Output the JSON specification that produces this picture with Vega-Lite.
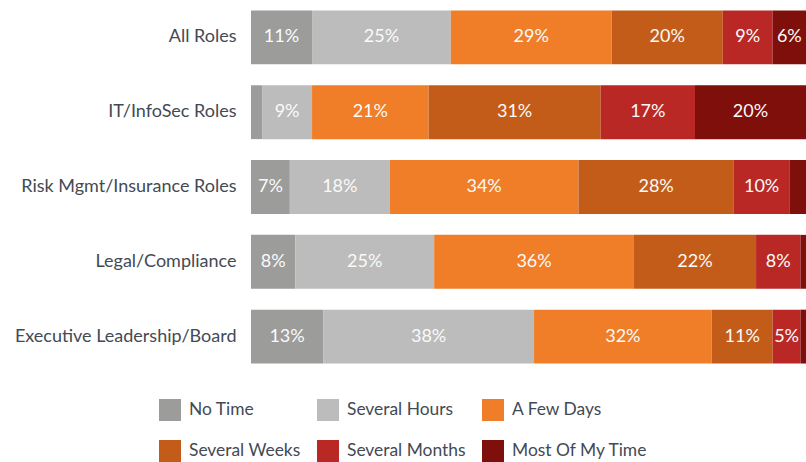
{
  "$schema": "https://vega.github.io/schema/vega-lite/v6.json",
  "width": 555,
  "height": 374,
  "autosize": {"type": "none"},
  "padding": {"left": 251, "top": 0, "right": 0, "bottom": 88},
  "background": "white",
  "config": {"view": {"stroke": null}, "font": "Lato"},
  "data": {
    "values": [
      {"role": "All Roles", "time": "No Time", "k": 1, "share": 0.11},
      {"role": "All Roles", "time": "Several Hours", "k": 2, "share": 0.25},
      {"role": "All Roles", "time": "A Few Days", "k": 3, "share": 0.29},
      {"role": "All Roles", "time": "Several Weeks", "k": 4, "share": 0.20},
      {"role": "All Roles", "time": "Several Months", "k": 5, "share": 0.09},
      {"role": "All Roles", "time": "Most Of My Time", "k": 6, "share": 0.06},
      {"role": "IT/InfoSec Roles", "time": "No Time", "k": 1, "share": 0.02},
      {"role": "IT/InfoSec Roles", "time": "Several Hours", "k": 2, "share": 0.09},
      {"role": "IT/InfoSec Roles", "time": "A Few Days", "k": 3, "share": 0.21},
      {"role": "IT/InfoSec Roles", "time": "Several Weeks", "k": 4, "share": 0.31},
      {"role": "IT/InfoSec Roles", "time": "Several Months", "k": 5, "share": 0.17},
      {"role": "IT/InfoSec Roles", "time": "Most Of My Time", "k": 6, "share": 0.20},
      {"role": "Risk Mgmt/Insurance Roles", "time": "No Time", "k": 1, "share": 0.07},
      {"role": "Risk Mgmt/Insurance Roles", "time": "Several Hours", "k": 2, "share": 0.18},
      {"role": "Risk Mgmt/Insurance Roles", "time": "A Few Days", "k": 3, "share": 0.34},
      {"role": "Risk Mgmt/Insurance Roles", "time": "Several Weeks", "k": 4, "share": 0.28},
      {"role": "Risk Mgmt/Insurance Roles", "time": "Several Months", "k": 5, "share": 0.10},
      {"role": "Risk Mgmt/Insurance Roles", "time": "Most Of My Time", "k": 6, "share": 0.03},
      {"role": "Legal/Compliance", "time": "No Time", "k": 1, "share": 0.08},
      {"role": "Legal/Compliance", "time": "Several Hours", "k": 2, "share": 0.25},
      {"role": "Legal/Compliance", "time": "A Few Days", "k": 3, "share": 0.36},
      {"role": "Legal/Compliance", "time": "Several Weeks", "k": 4, "share": 0.22},
      {"role": "Legal/Compliance", "time": "Several Months", "k": 5, "share": 0.08},
      {"role": "Legal/Compliance", "time": "Most Of My Time", "k": 6, "share": 0.01},
      {"role": "Executive Leadership/Board", "time": "No Time", "k": 1, "share": 0.13},
      {"role": "Executive Leadership/Board", "time": "Several Hours", "k": 2, "share": 0.38},
      {"role": "Executive Leadership/Board", "time": "A Few Days", "k": 3, "share": 0.32},
      {"role": "Executive Leadership/Board", "time": "Several Weeks", "k": 4, "share": 0.11},
      {"role": "Executive Leadership/Board", "time": "Several Months", "k": 5, "share": 0.05},
      {"role": "Executive Leadership/Board", "time": "Most Of My Time", "k": 6, "share": 0.01}
    ]
  },
  "encoding": {
    "y": {
      "field": "role",
      "type": "nominal",
      "sort": ["All Roles", "IT/InfoSec Roles", "Risk Mgmt/Insurance Roles", "Legal/Compliance", "Executive Leadership/Board"],
      "title": null,
      "scale": {"paddingInner": 0.28, "paddingOuter": 0.14},
      "axis": {"ticks": false, "domain": false, "labelFontSize": 18, "labelColor": "#434a54", "labelPadding": 15, "labelLimit": 300}
    }
  },
  "layer": [
    {
      "mark": {"type": "bar"},
      "encoding": {
        "x": {"field": "share", "type": "quantitative", "stack": "zero", "scale": {"domain": [0, 1]}, "axis": null},
        "color": {
          "field": "time",
          "type": "nominal",
          "scale": {
            "domain": ["No Time", "Several Hours", "A Few Days", "Several Weeks", "Several Months", "Most Of My Time"],
            "range": ["#9c9c9a", "#bcbcbc", "#f07e28", "#c45c19", "#ba2826", "#7e0f0b"]
          },
          "legend": {
            "orient": "none",
            "legendX": -92,
            "legendY": 399,
            "direction": "horizontal",
            "columns": 3,
            "title": null,
            "symbolType": "square",
            "symbolSize": 484,
            "symbolStrokeWidth": 0,
            "symbolOpacity": 1,
            "labelFontSize": 17.4,
            "labelColor": "#434a54",
            "labelOffset": 8,
            "columnPadding": 16,
            "rowPadding": 19,
            "padding": 0,
            "labelLimit": 300
          }
        },
        "order": {"field": "k"}
      }
    },
    {
      "transform": [
        {"stack": "share", "groupby": ["role"], "sort": [{"field": "k"}], "as": ["s0", "s1"]},
        {"fold": ["s0", "s1"], "as": ["edge", "pos"]},
        {"aggregate": [{"op": "mean", "field": "pos", "as": "mid"}], "groupby": ["role", "time", "share"]}
      ],
      "mark": {"type": "text", "color": "#fafafa", "fontSize": 18, "baseline": "middle", "align": "center"},
      "encoding": {
        "x": {"field": "mid", "type": "quantitative"},
        "text": {"condition": {"test": "datum.share < 0.05", "value": ""}, "field": "share", "type": "quantitative", "format": ".0%"}
      }
    }
  ]
}
